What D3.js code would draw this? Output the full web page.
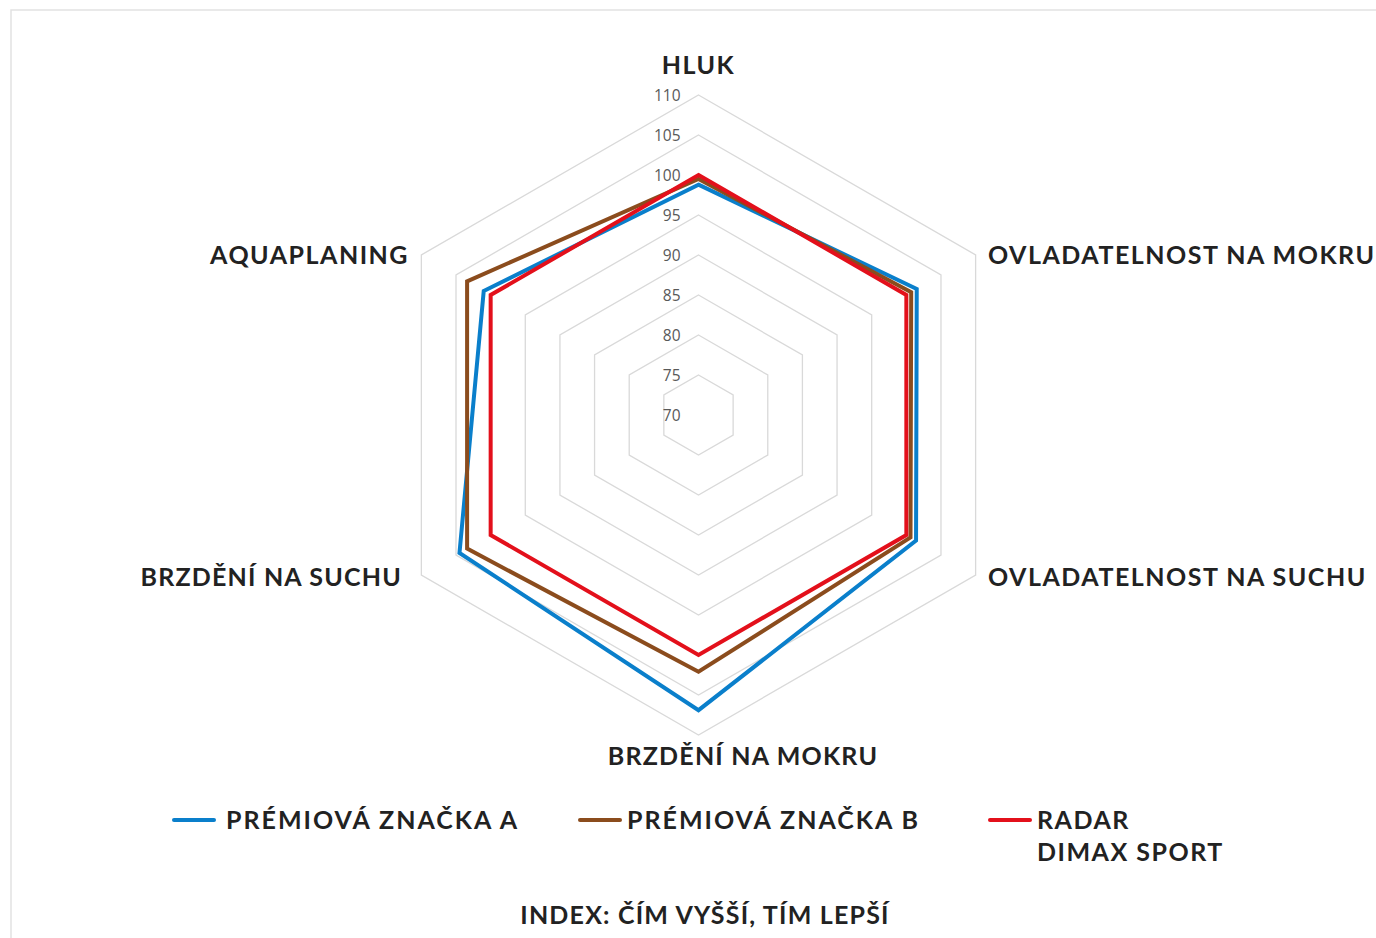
<!DOCTYPE html>
<html>
<head>
<meta charset="utf-8">
<script src="https://cdn.jsdelivr.net/npm/d3@7"></script>
<style>
  body { margin: 0; background: #fff; }
  .cat, .leg, .foot { font-family: Lato, "Noto Sans", sans-serif; font-weight: 700; fill: #222; }
  .tick-lbl { font-family: "Open Sans", "Noto Sans", sans-serif; fill: #595959; font-size: 15.5px; }
</style>
</head>
<body>
<div id="chart"></div>
<script>
// data
const categories = ['HLUK', 'OVLADATELNOST NA MOKRU', 'OVLADATELNOST NA SUCHU', 'BRZDĚNÍ NA MOKRU', 'BRZDĚNÍ NA SUCHU', 'AQUAPLANING'];
const seriesNames = ['PRÉMIOVÁ ZNAČKA A', 'PRÉMIOVÁ ZNAČKA B', 'RADAR\nDIMAX SPORT'];
const premiumA = [98.8, 101.5, 101.4, 106.9, 104.5, 101.0];
const premiumB = [99.5, 100.7, 100.6, 102.1, 103.4, 103.4];
const radarDimax = [100, 100, 100, 100, 100, 100];
const tickValues = [70, 75, 80, 85, 90, 95, 100, 105, 110];
const footNote = 'INDEX: ČÍM VYŠŠÍ, TÍM LEPŠÍ';

const colors = ['#0a7fcb', '#8b4c1d', '#e3101b'];
const W = 1376, H = 938;
const cx = 698.5, cy = 415;

const svg = d3.select('#chart').append('svg').attr('width', W).attr('height', H);

// outer frame
svg.append('rect').attr('x', 11).attr('y', 10).attr('width', W + 20).attr('height', H + 20)
  .attr('fill', 'none').attr('stroke', '#e2e2e2').attr('stroke-width', 1.5);

const r = d3.scaleLinear().domain([70, 110]).range([0, 320]);
const angle = i => i * 2 * Math.PI / categories.length;
const pt = (i, v) => [cx + r(v) * Math.sin(angle(i)), cy - r(v) * Math.cos(angle(i))];

const g = svg.append('g');

// grid hexagons
g.selectAll('.grid').data(tickValues.filter(t => t > 70)).enter().append('polygon')
  .attr('points', t => categories.map((c, i) => pt(i, t).join(',')).join(' '))
  .attr('fill', 'none').attr('stroke', '#d9d9d9').attr('stroke-width', 1.3);

// tick labels
g.selectAll('.tick-lbl').data(tickValues).enter().append('text')
  .attr('class', 'tick-lbl')
  .attr('x', cx - 18).attr('y', t => cy - r(t) + 5.5)
  .attr('text-anchor', 'end').text(t => t);

// series
const allSeries = [premiumA, premiumB, radarDimax];
const line = d3.lineRadial().angle((d, i) => angle(i)).radius(d => r(d)).curve(d3.curveLinearClosed);
g.selectAll('.series').data(allSeries).enter().append('path')
  .attr('transform', `translate(${cx},${cy})`)
  .attr('d', d => line(d))
  .attr('fill', 'none').attr('stroke', (d, i) => colors[i]).attr('stroke-width', 4)
  .attr('stroke-linejoin', 'miter');

// category labels
const catPos = [
  { x: cx, y: 74, a: 'middle' },
  { x: 988, y: 264, a: 'start' },
  { x: 988, y: 586, a: 'start' },
  { x: 743, y: 765, a: 'middle' },
  { x: 402, y: 586, a: 'end' },
  { x: 409, y: 264, a: 'end' }
];
svg.selectAll('.cat').data(categories).enter().append('text')
  .attr('class', 'cat').attr('font-size', 25).attr('letter-spacing', (d, i) => i === 3 || i === 4 ? 1.2 : 1.5)
  .attr('x', (d, i) => catPos[i].x).attr('y', (d, i) => catPos[i].y)
  .attr('text-anchor', (d, i) => catPos[i].a).text(d => d);

// legend
const legX = [174, 580, 990];
const leg = svg.selectAll('.leggrp').data(seriesNames).enter().append('g')
  .attr('transform', (d, i) => `translate(${legX[i]},820)`);
leg.append('line').attr('x1', 0).attr('x2', 40).attr('y1', 0).attr('y2', 0)
  .attr('stroke', (d, i) => colors[i]).attr('stroke-width', 4).attr('stroke-linecap', 'round');
leg.append('text').attr('class', 'leg').attr('font-size', 25).attr('letter-spacing', (d, i) => i === 2 ? 1.5 : 2)
  .attr('x', (d, i) => i === 0 ? 52 : 47).attr('y', 9)
  .selectAll('tspan').data(d => d.split('\n')).enter().append('tspan')
  .attr('x', function() { return this.parentNode.getAttribute('x'); })
  .attr('dy', (d, i) => i ? 32 : 0).text(d => d);

svg.append('text').attr('class', 'foot').attr('font-size', 25).attr('letter-spacing', 1.2)
  .attr('x', 705).attr('y', 924).attr('text-anchor', 'middle').text(footNote);
</script>
</body>
</html>
